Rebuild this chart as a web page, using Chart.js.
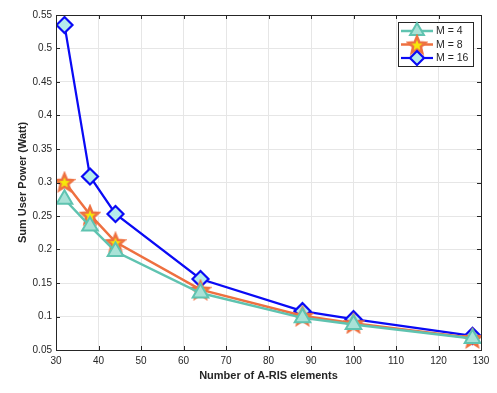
<!DOCTYPE html>
<html lang="en">
<head>
  <meta charset="UTF-8">
  <title>Sum User Power vs A-RIS elements</title>
  <script src="https://cdn.jsdelivr.net/npm/chart.js"></script>
  <style>
    body { margin: 0; background: #fff; }
    canvas { display: block; }
  </style>
</head>
<body>
  <canvas id="chart" width="497" height="393"></canvas>

  <script>
    // data
    const elements = [32, 38, 44, 64, 88, 100, 128];
    const powerM4  = [0.275, 0.235, 0.197, 0.135, 0.098, 0.088, 0.067];
    const powerM8  = [0.301, 0.252, 0.211, 0.140, 0.101, 0.090, 0.068];
    const powerM16 = [0.535, 0.309, 0.253, 0.156, 0.108, 0.096, 0.071];
    const seriesLabels = ['M = 4', 'M = 8', 'M = 16'];
    const xTicks = [30, 40, 50, 60, 70, 80, 90, 100, 110, 120, 130];
    const yTicks = [0.05, 0.1, 0.15, 0.2, 0.25, 0.3, 0.35, 0.4, 0.45, 0.5, 0.55];

    const FONT = 'Liberation Sans, Arial, Helvetica, sans-serif';

    // filled five point star marker (orange edge, yellow face)
    function starMarker(r) {
      const c = document.createElement('canvas');
      const s = Math.ceil(r * 2 + 4);
      c.width = s; c.height = s;
      const g = c.getContext('2d');
      g.translate(s / 2, s / 2 + 1);
      g.beginPath();
      for (let i = 0; i < 10; i++) {
        const rad = i % 2 ? r * 0.45 : r;
        const a = -Math.PI / 2 + i * Math.PI / 5;
        g.lineTo(rad * Math.cos(a), rad * Math.sin(a));
      }
      g.closePath();
      g.fillStyle = '#f7e80a';
      g.fill();
      g.lineWidth = 2.5;
      g.strokeStyle = '#ee7040';
      g.stroke();
      return c;
    }
    const star = starMarker(9);

    const toPts = ys => elements.map((x, i) => ({ x, y: ys[i] }));

    const datasets = [
      { label: seriesLabels[0], data: toPts(powerM4), borderColor: '#5fc3b0',
        backgroundColor: '#a9e2d7', pointStyle: 'triangle', pointRadius: 9,
        pointBorderWidth: 2, borderWidth: 2.5 },
      { label: seriesLabels[1], data: toPts(powerM8), borderColor: '#ee7040',
        backgroundColor: '#f7e80a', pointStyle: star, pointRadius: 9,
        pointBorderWidth: 2, borderWidth: 2.5 },
      { label: seriesLabels[2], data: toPts(powerM16), borderColor: '#0a0af5',
        backgroundColor: '#b5ecec', pointStyle: 'rectRot', pointRadius: 8,
        pointBorderWidth: 2.2, borderWidth: 2.2 }
    ].map(d => Object.assign(d, { showLine: true, tension: 0, pointHoverRadius: d.pointRadius }));

    // box round plot, inner ticks and legend, MATLAB style
    const matlabFrame = {
      id: 'matlabFrame',
      afterDraw(chart) {
        const { ctx, chartArea: a, scales: { x, y } } = chart;
        ctx.save();
        ctx.strokeStyle = '#262626';
        ctx.lineWidth = 1;
        ctx.beginPath();
        xTicks.forEach(t => {
          const px = Math.round(x.getPixelForValue(t)) + 0.5;
          ctx.moveTo(px, a.bottom); ctx.lineTo(px, a.bottom - 4);
          ctx.moveTo(px, a.top); ctx.lineTo(px, a.top + 4);
        });
        yTicks.forEach(t => {
          const py = Math.round(y.getPixelForValue(t)) + 0.5;
          ctx.moveTo(a.left, py); ctx.lineTo(a.left + 4, py);
          ctx.moveTo(a.right, py); ctx.lineTo(a.right - 4, py);
        });
        ctx.stroke();
        ctx.strokeRect(Math.round(a.left) + 0.5, Math.round(a.top) + 0.5,
          Math.round(a.right - a.left), Math.round(a.bottom - a.top));

        // legend
        const bx = 398.5, by = 22.5, bw = 75, bh = 44;
        ctx.fillStyle = '#fff';
        ctx.fillRect(bx, by, bw, bh);
        ctx.strokeStyle = '#262626';
        ctx.strokeRect(bx, by, bw, bh);
        ctx.font = '10.5px ' + FONT;
        ctx.textBaseline = 'middle';
        chart.data.datasets.forEach((d, i) => {
          const cy = 31 + i * 13.5;
          ctx.strokeStyle = d.borderColor;
          ctx.lineWidth = d.borderWidth;
          ctx.beginPath(); ctx.moveTo(401, cy); ctx.lineTo(433, cy); ctx.stroke();
          ctx.save();
          ctx.fillStyle = d.backgroundColor;
          ctx.strokeStyle = d.borderColor;
          ctx.lineWidth = d.pointBorderWidth;
          Chart.helpers.drawPoint(ctx, {
            pointStyle: d.pointStyle, radius: d.pointRadius - 1, rotation: 0,
            borderWidth: d.pointBorderWidth
          }, 417, cy);
          ctx.restore();
          ctx.fillStyle = '#262626';
          ctx.fillText(d.label, 436, cy + 0.5);
        });
        ctx.restore();
      }
    };

    new Chart(document.getElementById('chart'), {
      type: 'scatter',
      data: { datasets },
      plugins: [matlabFrame],
      options: {
        responsive: false,
        animation: false,
        layout: { padding: { top: 15, right: 16, left: 0, bottom: 0 } },
        plugins: { legend: { display: false }, tooltip: { enabled: false } },
        scales: {
          x: {
            type: 'linear', min: 30, max: 130,
            afterBuildTicks: s => { s.ticks = xTicks.map(v => ({ value: v })); },
            afterFit: s => { s.height = 43; },
            grid: { color: '#e6e6e6', drawTicks: false },
            border: { display: false },
            ticks: { color: '#262626', font: { family: FONT, size: 10 }, padding: 5, maxRotation: 0 },
            title: { display: true, text: 'Number of A-RIS elements', color: '#262626',
                     font: { family: FONT, size: 11, weight: 'bold' }, padding: { top: 3, bottom: 10 } }
          },
          y: {
            type: 'linear', min: 0.05, max: 0.55,
            afterBuildTicks: s => { s.ticks = yTicks.map(v => ({ value: v })); },
            afterFit: s => { s.width = 56; },
            grid: { color: '#e6e6e6', drawTicks: false },
            border: { display: false },
            ticks: { color: '#262626', font: { family: FONT, size: 10 }, padding: 4,
                     callback: v => String(+v.toFixed(2)) },
            title: { display: true, text: 'Sum User Power (Watt)', color: '#262626',
                     font: { family: FONT, size: 11, weight: 'bold' }, padding: { top: 16, bottom: 4 } }
          }
        }
      }
    });
  </script>
</body>
</html>
